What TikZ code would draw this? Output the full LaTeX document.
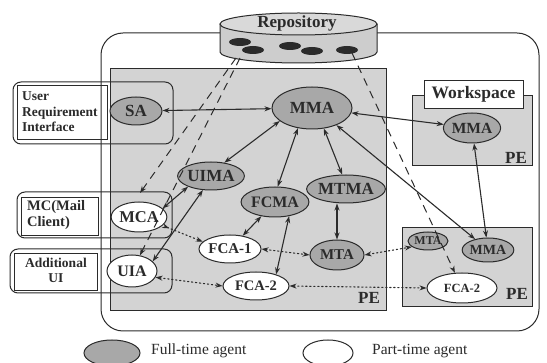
\documentclass[tikz,border=0pt]{standalone}
\usepackage{fontspec}
\setmainfont{Liberation Serif}
\usetikzlibrary{shapes.geometric,arrows.meta}

\definecolor{ink}{HTML}{2B2B2B}
\definecolor{pegray}{HTML}{D3D3D3}
\definecolor{fullgray}{HTML}{A8A8A8}
\definecolor{repogray}{HTML}{CDCDCD}
\definecolor{repotop}{HTML}{D9D9D9}

\begin{document}
\begin{tikzpicture}[x=1pt,y=-1pt,
  wh/.style 2 args={minimum width=#1pt, minimum height=#2pt},
  agent/.style={ellipse, draw=ink, line width=1pt, inner sep=0pt,
    font=\fontsize{16}{16}\selectfont\bfseries, text=ink},
  fullagent/.style={agent, fill=fullgray},
  partagent/.style={agent, fill=white},
  pebox/.style={rectangle, draw=ink, line width=0.8pt, fill=pegray, inner sep=0pt},
  uibox/.style={rectangle, draw=ink, line width=1pt, rounded corners=8pt, inner sep=0pt},
  uiinner/.style={rectangle, draw=ink, line width=0.8pt, fill=white, inner sep=0pt},
  boxtext/.style={text=ink, inner sep=0pt},
  pelabel/.style={font=\fontsize{17}{17}\selectfont\bfseries, text=ink, inner sep=0pt},
  link/.style={draw=ink, line width=1.1pt,
    {Stealth[length=7pt,width=5pt]}-{Stealth[length=7pt,width=5pt]}},
  dotlink/.style={link, dash pattern=on 1.3pt off 2.7pt, line cap=round},
  repolink/.style={draw=ink, line width=1pt, dash pattern=on 8pt off 6pt,
    -{Stealth[length=7pt,width=5pt]}},
  blob/.style={ellipse, fill=ink, inner sep=0pt, wh={22}{8}},
  legendtext/.style={font=\fontsize{15.5}{15.5}\selectfont, text=ink, anchor=west, inner sep=0pt}
]
\useasboundingbox (0,0) rectangle (547,363);
\fill[white] (0,0) rectangle (547,363);
\clip (0,0) rectangle (547,363);

% white label panels of the interfaces
\node[uiinner, wh={90}{54}] (urin) at (62,112) {};
\node[uiinner, wh={77}{38}] (mcin) at (59.5,216) {};
\node[uiinner, wh={83}{37}] (auin) at (55.5,271.5) {};

% environment outline
\node[rectangle, draw=ink, line width=1pt, rounded corners=22pt, inner sep=0pt,
      wh={438}{298}] (env) at (320,182) {};

% platform environments
\node[pebox, wh={276}{242}] (pe1) at (248,189) {};
\node[pebox, wh={120}{70}] (pe2) at (472,130) {};
\node[pebox, wh={130}{79}] (pe3) at (467,266.5) {};
\node[uiinner, wh={99}{28}, font=\fontsize{17.5}{17.5}\selectfont\bfseries, text=ink]
      (wslabel) at (473.5,94) {Workspace};
\node[pelabel] (pe1lab) at (369,298) {PE};
\node[pelabel] (pe2lab) at (516,158) {PE};
\node[pelabel] (pe3lab) at (517,294) {PE};

% interface frames
\node[uibox, wh={160}{62}] (urbox) at (93,113) {};
\node[uibox, wh={155}{46}] (mcbox) at (94.5,215) {};
\node[uibox, wh={162}{44}] (aubox) at (91,271) {};
\node[boxtext, anchor=west, align=left, font=\fontsize{13.5}{15.5}\selectfont\bfseries]
      (urtext) at (22,112) {User\\Requirement\\Interface};
\node[boxtext, anchor=west, align=left, font=\fontsize{14.5}{16}\selectfont\bfseries]
      (mctext) at (27,215) {MC(Mail\\Client)};
\node[boxtext, align=center, font=\fontsize{13.5}{14.5}\selectfont\bfseries]
      (autext) at (56,270.5) {Additional\\UI};

% repository cylinder
\path[fill=repogray, draw=ink, line width=1pt]
  (220,24) -- (220,52) arc[start angle=180, end angle=360, x radius=78.5pt, y radius=11pt]
  -- (377,24);
\draw[fill=repotop, draw=ink, line width=1pt] (298.5,24) ellipse[x radius=78.5pt, y radius=11pt];
\node[font=\fontsize{17}{17}\selectfont\bfseries, text=ink, inner sep=0pt] (repo) at (297,23) {Repository};
\node[blob] (d1) at (240,42) {};
\node[blob] (d2) at (253,50) {};
\node[blob] (d3) at (290,46) {};
\node[blob] (d4) at (312,51) {};
\node[blob] (d5) at (347,50) {};
\coordinate (ra) at (236,58);
\coordinate (rb) at (240,58);
\coordinate (rc) at (352,53);
\coordinate (mctop) at (140,193);

% agents
\node[fullagent, wh={52}{28}, font=\fontsize{17}{17}\selectfont\bfseries] (sa) at (136,111) {SA};
\node[fullagent, wh={80}{42}, font=\fontsize{17}{17}\selectfont\bfseries] (mma) at (312,108) {MMA};
\node[fullagent, wh={54}{30}, font=\fontsize{15.5}{15.5}\selectfont\bfseries] (wmma) at (472,128) {MMA};
\node[fullagent, wh={58}{28}, font=\fontsize{17}{17}\selectfont\bfseries] (uima) at (211,176) {UIMA};
\node[fullagent, wh={60}{30}] (fcma) at (275,202) {FCMA};
\node[fullagent, wh={68}{28}, font=\fontsize{17}{17}\selectfont\bfseries] (mtma) at (346,189) {MTMA};
\node[fullagent, wh={54}{30}, font=\fontsize{15}{15}\selectfont\bfseries] (mta) at (337,255) {MTA};
\node[partagent, wh={62}{28}, font=\fontsize{15}{15}\selectfont\bfseries] (fca1) at (230,249) {FCA-1};
\node[partagent, wh={66}{28}, font=\fontsize{14.5}{14.5}\selectfont\bfseries] (fca2) at (256,286) {FCA-2};
\node[partagent, wh={52}{30}, font=\fontsize{16.5}{16.5}\selectfont\bfseries] (mca) at (139,217) {MCA};
\node[partagent, wh={50}{32}] (uia) at (132,271) {UIA};
\node[fullagent, wh={40}{18}, font=\fontsize{12}{12}\selectfont\bfseries] (rmta) at (428,241) {MTA};
\node[fullagent, wh={48}{24}, font=\fontsize{14}{14}\selectfont\bfseries] (rmma) at (488,250) {MMA};
\node[partagent, wh={70}{30}, font=\fontsize{12.5}{12.5}\selectfont\bfseries] (rfca2) at (462,288) {FCA-2};

% repository links
\draw[repolink] (ra) -- (mctop);
\draw[repolink] (rb) -- (uia);
\draw[repolink] (rc) -- (rfca2);

% agent links
\draw[link] (sa) -- (mma);
\draw[link] (mma.202) -- (uima.45);
\draw[link] (mma.235) -- (fcma.80);
\draw[link] (mma.300) -- (mtma.105);
\draw[link] (mma) -- (wmma);
\draw[link] (wmma) -- (rmma);
\draw[link] (mma.325) -- (rmma.140);
\draw[link] (mta.north |- mtma.south) -- (mta.north);
\draw[link] (fcma) -- (fca1);
\draw[link] (fcma.315) -- (fca2.30);
\draw[link] (mca.20) -- (uima.205);
\draw[link] (uia.25) -- (uima.240);

% message paths
\draw[dotlink] (uia.345) -- (fca2.west);
\draw[dotlink] (fca1.east) -- (mta.west);
\draw[dotlink] (mta.east) -- (rmta.200);
\draw[dotlink] (fca2.east) -- (rfca2.west);
\draw[dotlink, {Stealth[length=7pt,width=5pt,reversed]}-{Stealth[length=7pt,width=5pt]}] (mca.340) -- (fca1.165);

% legend
\node[fullagent, wh={56}{26}] (legfull) at (112,353) {};
\node[legendtext] (legfulltext) at (151,351) {Full-time agent};
\node[partagent, wh={50}{26}] (legpart) at (328,353) {};
\node[legendtext] (legparttext) at (372,351) {Part-time agent};
\end{tikzpicture}
\end{document}
